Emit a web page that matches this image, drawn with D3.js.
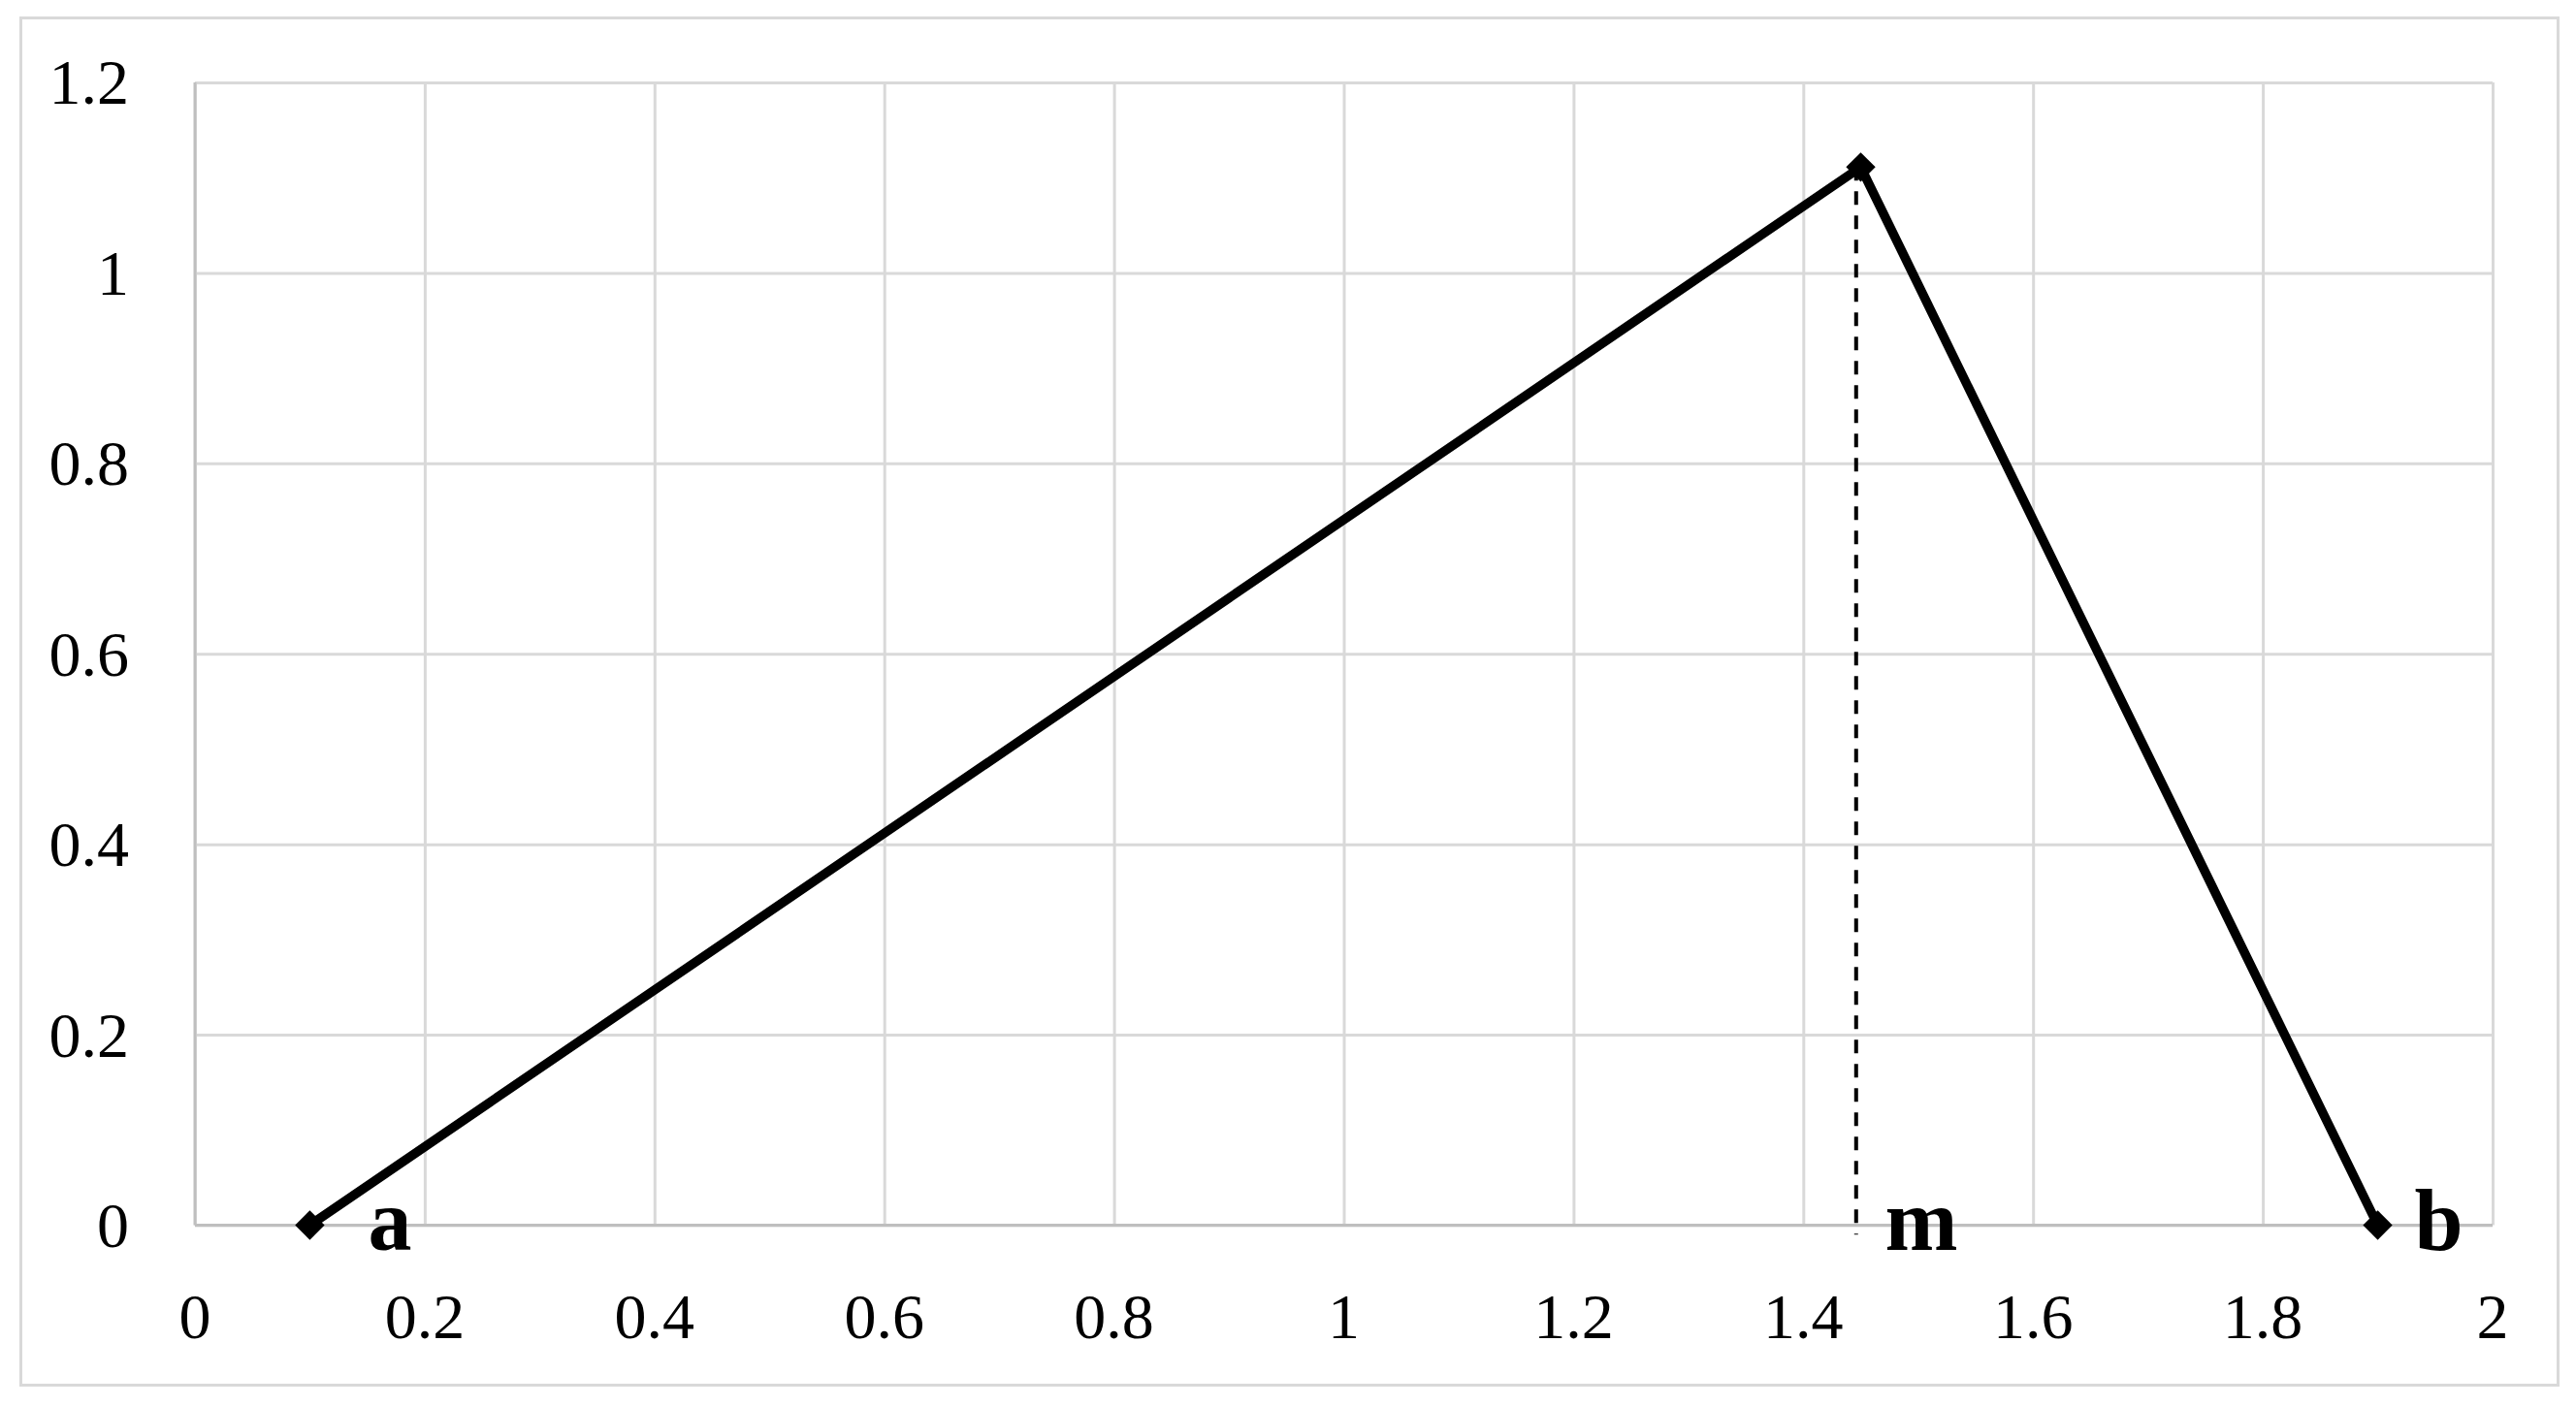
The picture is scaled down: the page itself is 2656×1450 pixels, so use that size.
<!DOCTYPE html>
<html>
<head>
<meta charset="utf-8">
<script src="https://cdn.jsdelivr.net/npm/d3@7"></script>
<style>
  html, body { margin: 0; padding: 0; background: #fff; }
  svg { display: block; }
  text { font-family: "Liberation Serif", "Times New Roman", serif; fill: #000; }
</style>
</head>
<body>
<script>
// triangle distribution: a, m (peak), b
const xValues = [0.1, 1.45, 1.9];
const yValues = [0, 1.1111, 0];
const pointLabels = ["a", "m", "b"];
// dashed guide under the peak
const modeX = [1.446, 1.446];
const modeY = [1.1111, -0.01];
const xTicks = [0, 0.2, 0.4, 0.6, 0.8, 1, 1.2, 1.4, 1.6, 1.8, 2];
const yTicks = [0, 0.2, 0.4, 0.6, 0.8, 1, 1.2];

const W = 2656, H = 1450;
const margin = {left: 201, right: W - 2570, top: 85, bottom: H - 1263.5};

const svg = d3.select("body").append("svg")
    .attr("width", W)
    .attr("height", H);

// chart border
svg.append("rect")
    .attr("x", 21.5).attr("y", 18.5)
    .attr("width", 2616).attr("height", 1410)
    .attr("fill", "#fff")
    .attr("stroke", "#d9d9d9")
    .attr("stroke-width", 3);

const x = d3.scaleLinear().domain([0, 2]).range([margin.left, W - margin.right]);
const y = d3.scaleLinear().domain([0, 1.2]).range([H - margin.bottom, margin.top]);

// gridlines
svg.append("g")
    .attr("transform", `translate(0,${y(0)})`)
    .call(d3.axisBottom(x).tickValues(xTicks).tickSize(-(y(0) - y(1.2))).tickFormat(""))
    .call(g => g.select(".domain").remove())
    .call(g => g.selectAll("line").attr("stroke", "#d9d9d9").attr("stroke-width", 3));

svg.append("g")
    .attr("transform", `translate(${x(0)},0)`)
    .call(d3.axisLeft(y).tickValues(yTicks).tickSize(-(x(2) - x(0))).tickFormat(""))
    .call(g => g.select(".domain").remove())
    .call(g => g.selectAll("line").attr("stroke", "#d9d9d9").attr("stroke-width", 3));

// axis lines
svg.append("line")
    .attr("x1", x(0)).attr("x2", x(2)).attr("y1", y(0)).attr("y2", y(0))
    .attr("stroke", "#bfbfbf").attr("stroke-width", 3);
svg.append("line")
    .attr("x1", x(0)).attr("x2", x(0)).attr("y1", y(0)).attr("y2", y(1.2))
    .attr("stroke", "#bfbfbf").attr("stroke-width", 3);

// tick labels
svg.append("g").selectAll("text")
    .data(xTicks)
    .join("text")
    .attr("x", d => x(d))
    .attr("y", 1380)
    .attr("text-anchor", "middle")
    .attr("font-size", 66)
    .text(d => d3.format("")(d));

svg.append("g").selectAll("text")
    .data(yTicks)
    .join("text")
    .attr("x", 133)
    .attr("y", d => y(d))
    .attr("dy", "0.34em")
    .attr("text-anchor", "end")
    .attr("font-size", 66)
    .text(d => d3.format("")(d));

// dashed line at the mode
svg.append("path")
    .datum(modeX.map((v, i) => [v, modeY[i]]))
    .attr("fill", "none")
    .attr("stroke", "#000")
    .attr("stroke-width", 4)
    .attr("stroke-dasharray", "14,11")
    .attr("d", d3.line().x(d => x(d[0])).y(d => y(d[1])));

// the triangle
const pts = xValues.map((v, i) => [v, yValues[i]]);
svg.append("path")
    .datum(pts)
    .attr("fill", "none")
    .attr("stroke", "#000")
    .attr("stroke-width", 9.5)
    .attr("stroke-linejoin", "round")
    .attr("d", d3.line().x(d => x(d[0])).y(d => y(d[1])));

svg.append("g").selectAll("path")
    .data(pts)
    .join("path")
    .attr("transform", d => `translate(${x(d[0])},${y(d[1])}) rotate(45)`)
    .attr("d", d3.symbol(d3.symbolSquare, 460))
    .attr("fill", "#000");

// point labels
const labelDx = [60, 25, 38];
svg.append("g").selectAll("text")
    .data(pointLabels)
    .join("text")
    .attr("x", (d, i) => x(xValues[i]) + labelDx[i])
    .attr("y", 1289)
    .attr("font-size", 90)
    .attr("font-weight", "bold")
    .text(d => d);
</script>
</body>
</html>
